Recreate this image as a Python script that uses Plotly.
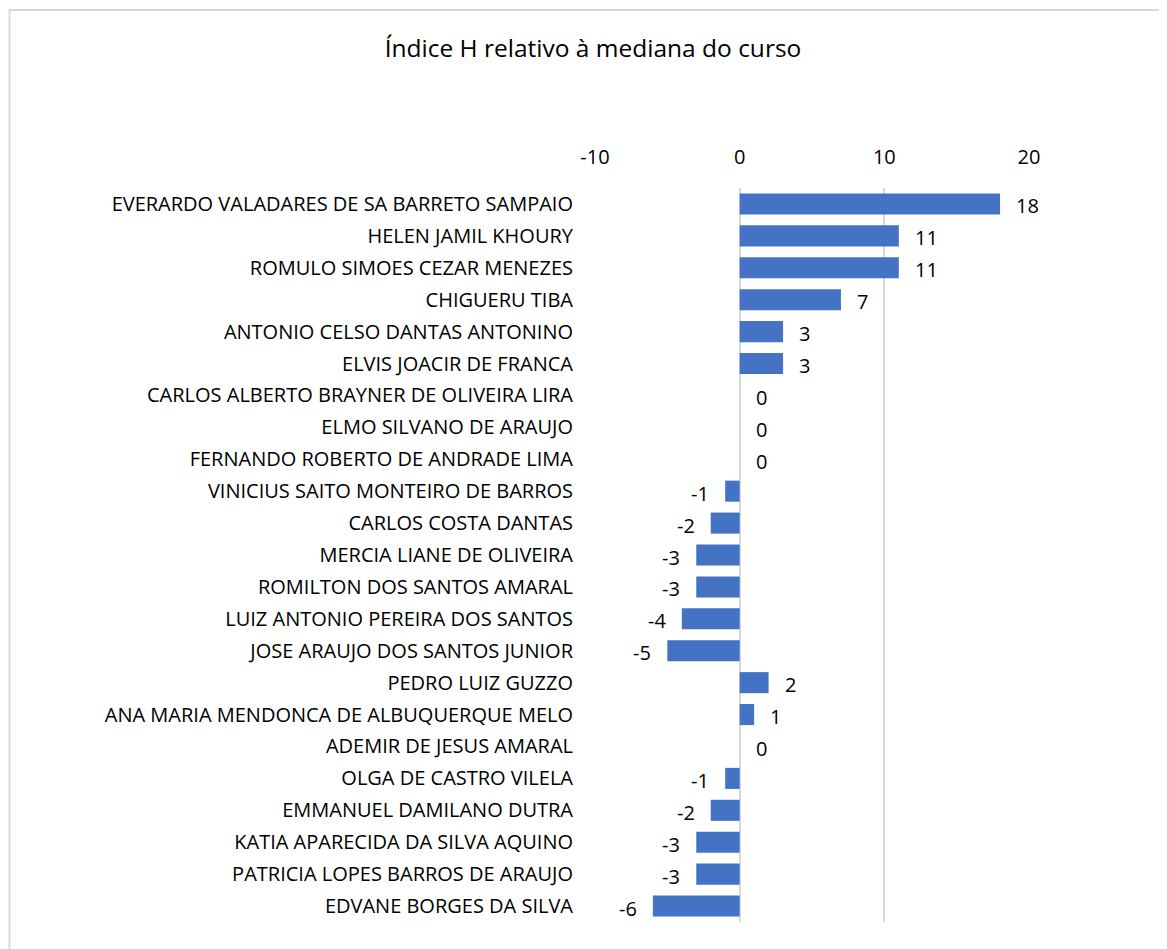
import plotly.graph_objects as go

names = [
    "EVERARDO VALADARES DE SA BARRETO SAMPAIO",
    "HELEN JAMIL KHOURY",
    "ROMULO SIMOES CEZAR MENEZES",
    "CHIGUERU TIBA",
    "ANTONIO CELSO DANTAS ANTONINO",
    "ELVIS JOACIR DE FRANCA",
    "CARLOS ALBERTO BRAYNER DE OLIVEIRA LIRA",
    "ELMO SILVANO DE ARAUJO",
    "FERNANDO ROBERTO DE ANDRADE LIMA",
    "VINICIUS SAITO MONTEIRO DE BARROS",
    "CARLOS COSTA DANTAS",
    "MERCIA LIANE DE OLIVEIRA",
    "ROMILTON DOS SANTOS AMARAL",
    "LUIZ ANTONIO PEREIRA DOS SANTOS",
    "JOSE ARAUJO DOS SANTOS JUNIOR",
    "PEDRO LUIZ GUZZO",
    "ANA MARIA MENDONCA DE ALBUQUERQUE MELO",
    "ADEMIR DE JESUS AMARAL",
    "OLGA DE CASTRO VILELA",
    "EMMANUEL DAMILANO DUTRA",
    "KATIA APARECIDA DA SILVA AQUINO",
    "PATRICIA LOPES BARROS DE ARAUJO",
    "EDVANE BORGES DA SILVA",
]
values = [18, 11, 11, 7, 3, 3, 0, 0, 0, -1, -2, -3, -3, -4, -5, 2, 1, 0, -1, -2, -3, -3, -6]
tick_vals = [-10, 0, 10, 20]
tick_text = ["-10", "0", "10", "20"]

font_family = "'Open Sans', sans-serif"
FS = 20

# page has an 8px body margin, so the figure is placed at (8, 8)
W, H = 1159, 941
ML, MT = 587, 180
PW, PH = 434, 734
MR = W - ML - PW
MB = H - MT - PH

fig = go.Figure()
fig.add_trace(go.Bar(
    x=values, y=names, orientation="h",
    marker=dict(color="#4472C4", line=dict(width=0)),
    hoverinfo="x+y",
))
# value labels as annotations anchored to the data values
for n, v in zip(names, values):
    if v >= 0:
        fig.add_annotation(x=v, y=n, text=str(v), showarrow=False, xanchor="left",
                           xshift=14, yshift=-2,
                           font=dict(size=FS, color="#000000", family=font_family))
    else:
        fig.add_annotation(x=v, y=n, text=str(v), showarrow=False, xanchor="right",
                           xshift=-14, yshift=-2,
                           font=dict(size=FS, color="#000000", family=font_family))

fig.update_layout(
    width=W, height=H,
    paper_bgcolor="white", plot_bgcolor="white",
    showlegend=False,
    bargap=0.34,
    margin=dict(l=ML, r=MR, t=MT, b=MB),
    title=dict(text="Índice H relativo à mediana do curso", x=(593 - 8) / W, xanchor="center",
               y=1 - (48 - 8) / H, yanchor="middle",
               font=dict(size=24.5, color="#000000", family=font_family)),
    font=dict(family=font_family, color="#000000"),
    xaxis=dict(side="top", range=[-10, 20], tickvals=tick_vals, ticktext=tick_text, showgrid=True,
               gridcolor="#D9D9D9", gridwidth=1.5, zeroline=False, showline=False,
               tickfont=dict(size=FS, color="#000000"), ticks="", ticklabelstandoff=19),
    yaxis=dict(range=[len(names) - 0.5, -0.5], categoryorder="array", categoryarray=names,
               showgrid=False, zeroline=False, showline=False, ticks="",
               tickfont=dict(size=FS, color="#000000"), ticklabelstandoff=21),
)
# outer border (starts at page x=8,y=10 -> figure x=0,y=2)
fig.add_shape(type="rect", xref="paper", yref="paper",
              x0=(1.5 - ML) / PW, x1=(W + 20 - ML) / PW,
              y0=(H - MB - (H + 20)) / PH, y1=(H - MB - 2) / PH,
              line=dict(color="#D9D9D9", width=2), layer="below")

fig.write_html("out.html")
